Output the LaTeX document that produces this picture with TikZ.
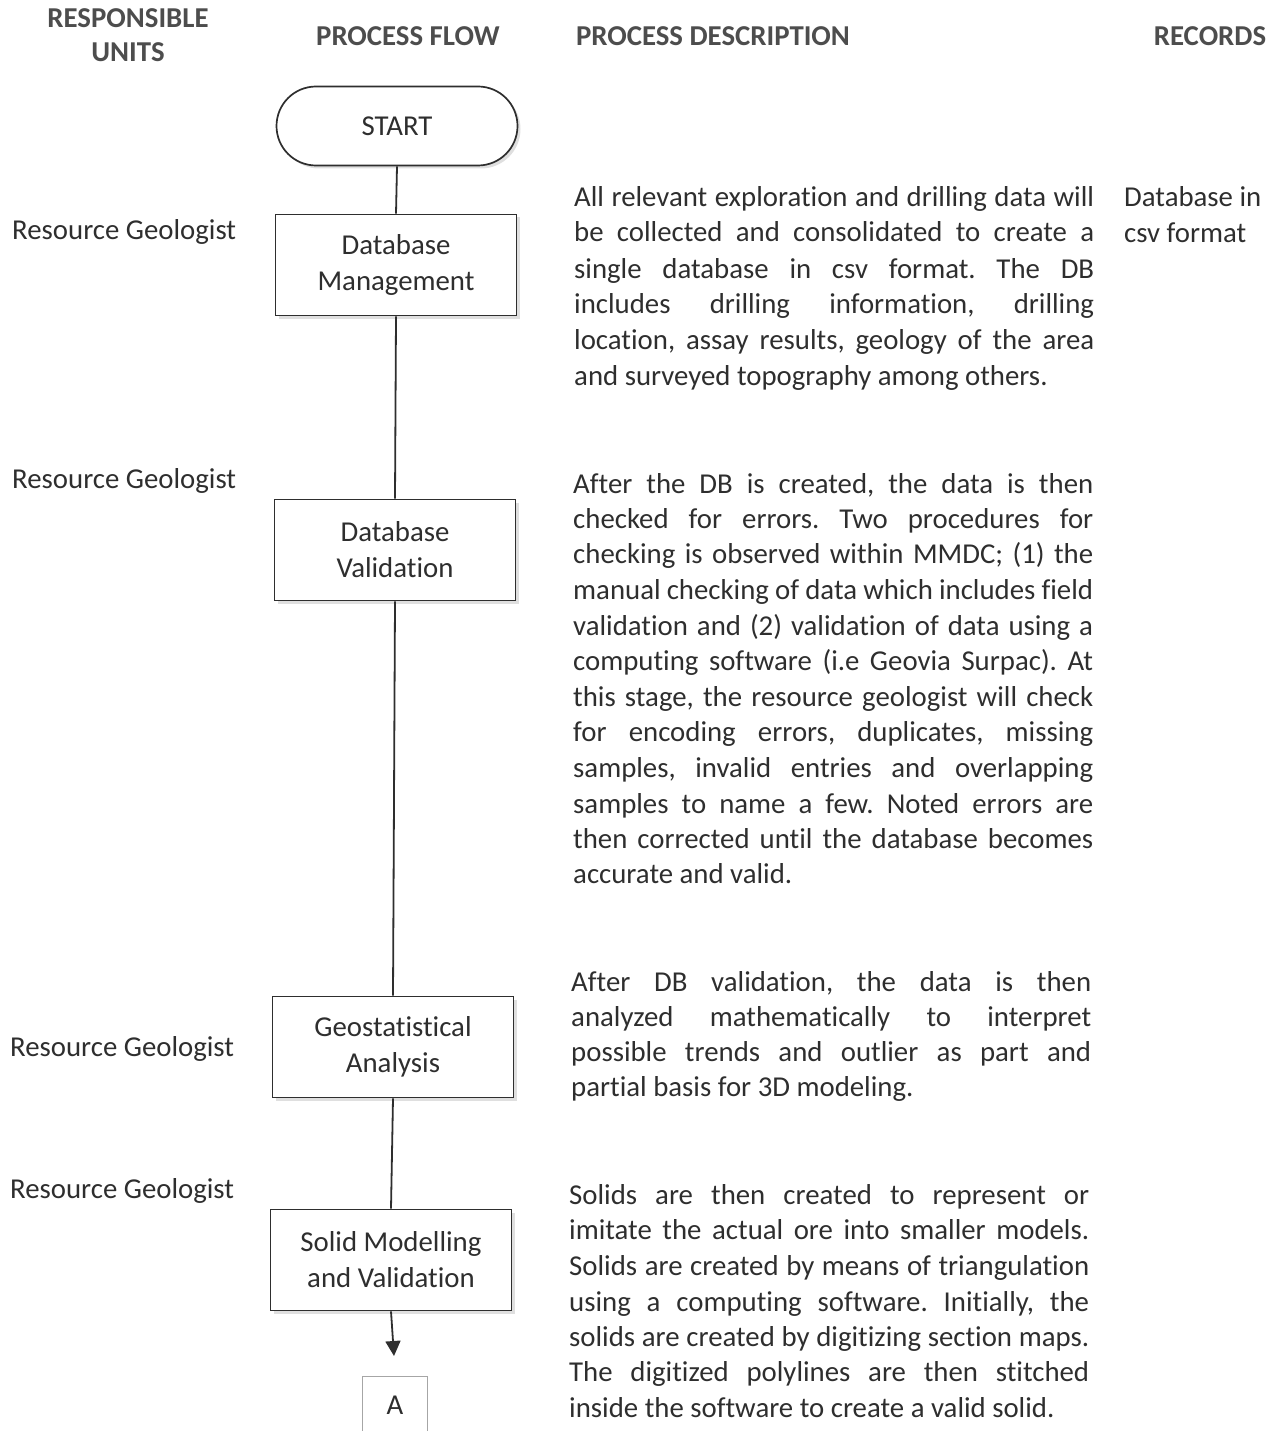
\documentclass[tikz,border=0pt]{standalone}
\usepackage{fontspec}
\setmainfont{Carlito}[Ligatures=NoCommon]
\usetikzlibrary{arrows.meta,shapes.misc,shadows}
\definecolor{ink}{HTML}{2E2E2E}
\frenchspacing
\newcommand\JLine[3]{\node[txt,anchor=base west] (#1) at (#2) {\makebox[520pt][s]{#3}};}
\newcommand\LLine[3]{\node[txt,anchor=base west] (#1) at (#2) {#3};}
\begin{document}
\begin{tikzpicture}[x=1pt,y=-1pt,
  txt/.style={inner sep=0pt, text=ink, font=\fontsize{28.8}{35.5}\selectfont\frenchspacing},
  hdr/.style={inner sep=0pt, text=ink!85!white, font=\fontsize{28.8}{34}\selectfont\bfseries},
  boxshadow/.style={drop shadow={shadow xshift=3pt, shadow yshift=-3pt, opacity=0.25, fill=gray}},
  proc/.style={draw=ink, line width=1.7pt, fill=white, minimum width=241pt, minimum height=101pt,
    align=center, text=ink, font=\fontsize{28.8}{36}\selectfont, inner sep=0pt, boxshadow},
  term/.style={rounded rectangle, draw=ink, line width=1.7pt, fill=white, minimum width=241pt,
    minimum height=79pt, text=ink, font=\fontsize{28.8}{34}\selectfont, inner sep=0pt, boxshadow},
  conn/.style={draw=ink, line width=1.8pt},
  conbox/.style={minimum width=64pt, minimum height=56pt, inner sep=0pt, text=ink,
    font=\fontsize{28.8}{34}\selectfont}
]
\useasboundingbox (0,0) rectangle (1279,1431);

% headers
\node[hdr,anchor=base] (h1a) at (128,28) {RESPONSIBLE};
\node[hdr,anchor=base] (h1b) at (128,62) {UNITS};
\node[hdr,anchor=base] (h2) at (408,46) {PROCESS FLOW};
\node[hdr,anchor=base] (h3) at (713,46) {PROCESS DESCRIPTION};
\node[hdr,anchor=base] (h4) at (1210,46) {RECORDS};

% flow
\node[term] (start) at (397,126) {START};
\node[proc] (dbm) at (396,265) {Database\\Management};
\node[proc] (dbv) at (395,550) {Database\\Validation};
\node[proc] (geo) at (393,1047) {Geostatistical\\Analysis};
\node[proc] (smv) at (391,1260) {Solid Modelling\\and Validation};
\coordinate (arrowend) at (394,1356);
\node[conbox] (A) at (395,1405) {A};

\draw[conn] (start.south) -- (dbm.north);
\draw[conn] (dbm.south) -- (dbv.north);
\draw[conn] (dbv.south) -- (geo.north);
\draw[conn] (geo.south) -- (smv.north);
\draw[conn,-{Triangle[width=15pt,length=15pt]}] (smv.south) -- (arrowend);
\draw[gray!70, line width=0.9pt] (A.south west) -- (A.north west) -- (A.north east) -- (A.south east);

% responsible units
\node[txt,anchor=base west] (ru1) at (12,240) {Resource Geologist};
\node[txt,anchor=base west] (ru2) at (12,488) {Resource Geologist};
\node[txt,anchor=base west] (ru3) at (10,1056) {Resource Geologist};
\node[txt,anchor=base west] (ru4) at (10,1198) {Resource Geologist};

% records
\node[txt,anchor=base west] (rec1) at (1124,207) {Database in};
\node[txt,anchor=base west] (rec2) at (1124,243) {csv format};

% paragraph 1
\JLine{p1a}{574,207}{All relevant exploration and drilling data will}
\JLine{p1b}{574,242}{be collected and consolidated to create a}
\JLine{p1c}{574,278}{single database in csv format. The DB}
\JLine{p1d}{574,313}{includes drilling information, drilling}
\JLine{p1e}{574,349}{location, assay results, geology of the area}
\LLine{p1f}{574,385}{and surveyed topography among others.}

% paragraph 2
\JLine{p2a}{573,493}{After the DB is created, the data is then}
\JLine{p2b}{573,528}{checked for errors. Two procedures for}
\JLine{p2c}{573,563}{checking is observed within MMDC; (1) the}
\JLine{p2d}{573,599}{manual checking of data which includes field}
\JLine{p2e}{573,635}{validation and (2) validation of data using a}
\JLine{p2f}{573,670}{computing software (i.e Geovia Surpac). At}
\JLine{p2g}{573,706}{this stage, the resource geologist will check}
\JLine{p2h}{573,741}{for encoding errors, duplicates, missing}
\JLine{p2i}{573,777}{samples, invalid entries and overlapping}
\JLine{p2j}{573,813}{samples to name a few. Noted errors are}
\JLine{p2k}{573,848}{then corrected until the database becomes}
\LLine{p2l}{573,883}{accurate and valid.}

% paragraph 3
\JLine{p3a}{571,991}{After DB validation, the data is then}
\JLine{p3b}{571,1026}{analyzed mathematically to interpret}
\JLine{p3c}{571,1061}{possible trends and outlier as part and}
\LLine{p3d}{571,1096}{partial basis for 3D modeling.}

% paragraph 4
\JLine{p4a}{569,1204}{Solids are then created to represent or}
\JLine{p4b}{569,1239}{imitate the actual ore into smaller models.}
\JLine{p4c}{569,1275}{Solids are created by means of triangulation}
\JLine{p4d}{569,1311}{using a computing software. Initially, the}
\JLine{p4e}{569,1346}{solids are created by digitizing section maps.}
\JLine{p4f}{569,1381}{The digitized polylines are then stitched}
\LLine{p4g}{569,1417}{inside the software to create a valid solid.}
\end{tikzpicture}
\end{document}
